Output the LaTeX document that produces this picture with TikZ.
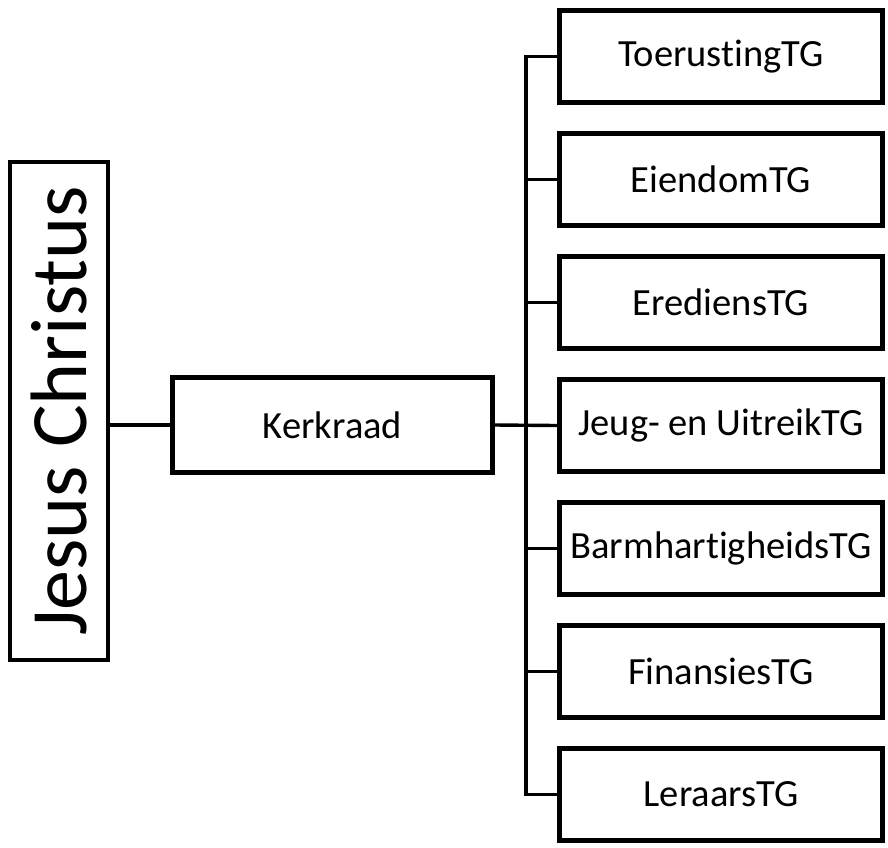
\documentclass[tikz,border=0pt]{standalone}
\usepackage{fontspec}
\setmainfont{Carlito}[Ligatures=NoCommon]
\usetikzlibrary{shadows}
\begin{document}
\begin{tikzpicture}[x=1pt,y=-1pt,
  box/.style={draw=black, line width=4.8pt, fill=white, inner sep=0pt,
    drop shadow={shadow xshift=1.5pt, shadow yshift=-2pt, opacity=0.25, fill=black},
    font=\fontsize{38.5}{44}\selectfont},
  tgbox/.style={box, minimum width=323pt, minimum height=92pt},
  link/.style={draw=black, line width=3.4pt}
]
\useasboundingbox (0,0) rectangle (888,847);
\node[box, minimum width=98pt, minimum height=498pt, font=\fontsize{80}{92}\selectfont] (jc) at (59,411) {\rotatebox{90}{Jesus Christus}};
\node[box, minimum width=320pt, minimum height=95pt] (kr) at (332.5,425) {Kerkraad};
\node[tgbox] (b1) at (721,56.5) {ToerustingTG};
\node[tgbox] (b2) at (721,179.5) {EiendomTG};
\node[tgbox] (b3) at (721,302.5) {ErediensTG};
\node[tgbox] (b4) at (721,425.5) {Jeug- en UitreikTG};
\node[tgbox] (b5) at (721,548.5) {BarmhartigheidsTG};
\node[tgbox] (b6) at (721,671.5) {FinansiesTG};
\node[tgbox] (b7) at (721,794.5) {LeraarsTG};
\coordinate (bus) at (526,0);
\draw[link] (jc.east |- kr.west) -- (kr.west);
\draw[link] (kr.east) -- (b4.west);
\draw[link, line cap=rect] (b1.west -| bus) -- (b7.west -| bus);
\foreach \i in {1,...,7} {
  \draw[link] (b\i.west) -- (b\i.west -| bus);
}
\end{tikzpicture}
\end{document}
